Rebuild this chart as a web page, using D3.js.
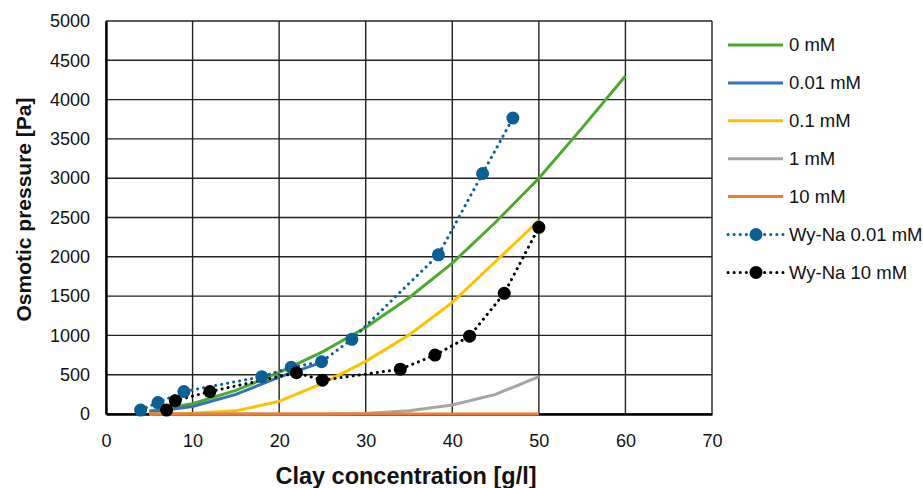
<!DOCTYPE html>
<html>
<head>
<meta charset="utf-8">
<script src="https://cdn.jsdelivr.net/npm/d3@7"></script>
<style>
  html, body { margin: 0; padding: 0; background: #fff; }
  svg { display: block; font-family: "Liberation Sans", Arial, sans-serif; }
</style>
</head>
<body>
<svg id="chart" width="923" height="488"></svg>
<script>
// Model curves: osmotic pressure [Pa] vs clay concentration [g/l]
const concModel = [5, 10, 15, 20, 25, 30, 35, 40, 45, 50, 55, 60];
const p0mM   = [40, 130, 300, 530, 790, 1100, 1480, 1920, 2440, 3000, 3640, 4300];
const conc001 = [5, 10, 15, 20, 25];
const p001mM  = [25, 95, 250, 470, 660];
const conc01  = [5, 10, 15, 20, 25, 30, 35, 40, 45, 50];
const p01mM   = [0, 10, 40, 160, 390, 670, 1005, 1420, 1940, 2460];
const conc1   = [5, 10, 15, 20, 25, 30, 35, 40, 45, 50];
const p1mM    = [0, 0, 0, 0, 0, 5, 40, 115, 250, 475];
const conc10  = [5, 50];
const p10mM   = [0, 0];

// Measurements (Wy-Na)
const wyConc001 = [4.0, 6.0, 9.0, 18.0, 21.4, 24.9, 28.4, 38.4, 43.5, 47.0];
const wyP001    = [50, 145, 285, 475, 595, 665, 950, 2025, 3060, 3765];
const wyConc10  = [7.0, 8.0, 12.0, 22.0, 25.0, 34.0, 38.0, 42.0, 46.0, 50.0];
const wyP10     = [50, 170, 285, 525, 430, 570, 750, 990, 1535, 2375];

const xTicks = [0, 10, 20, 30, 40, 50, 60, 70];
const yTicks = [0, 500, 1000, 1500, 2000, 2500, 3000, 3500, 4000, 4500, 5000];

const seriesNames = ["0 mM", "0.01 mM", "0.1 mM", "1 mM", "10 mM", "Wy-Na 0.01 mM", "Wy-Na 10 mM"];

const zip = (xs, ys) => xs.map((x, i) => [x, ys[i]]);

const series = [
  { name: seriesNames[0], data: zip(concModel, p0mM), color: "#4ea72e", marker: false },
  { name: seriesNames[1], data: zip(conc001, p001mM), color: "#3670b8", marker: false },
  { name: seriesNames[2], data: zip(conc01, p01mM),   color: "#ffc000", marker: false },
  { name: seriesNames[3], data: zip(conc1, p1mM),     color: "#a5a5a5", marker: false },
  { name: seriesNames[4], data: zip(conc10, p10mM),   color: "#ed7d31", marker: false },
  { name: seriesNames[5], data: zip(wyConc001, wyP001), color: "#0a5f94", marker: true },
  { name: seriesNames[6], data: zip(wyConc10, wyP10),   color: "#000000", marker: true }
];

const svg = d3.select("#chart");
const m = { left: 106, right: 712, top: 21, bottom: 414 };

const x = d3.scaleLinear().domain([0, 70]).range([m.left, m.right]);
const y = d3.scaleLinear().domain([0, 5000]).range([m.bottom, m.top]);

// Grid
const grid = svg.append("g");
grid.selectAll("line.h").data(yTicks).join("line")
  .attr("x1", m.left).attr("x2", m.right)
  .attr("y1", d => y(d)).attr("y2", d => y(d))
  .attr("stroke", "#222").attr("stroke-width", 1.4);
grid.selectAll("line.v").data(xTicks).join("line")
  .attr("y1", m.top).attr("y2", m.bottom)
  .attr("x1", d => x(d)).attr("x2", d => x(d))
  .attr("stroke", "#222").attr("stroke-width", 1.4);

// Axes
const fmt = d3.format("d");
const xAxis = svg.append("g").attr("transform", `translate(0,${m.bottom})`)
  .call(d3.axisBottom(x).tickValues(xTicks).tickFormat(fmt).tickSize(0).tickPadding(20));
const yAxis = svg.append("g").attr("transform", `translate(${m.left},0)`)
  .call(d3.axisLeft(y).tickValues(yTicks).tickFormat(fmt).tickSize(0).tickPadding(16));
[xAxis, yAxis].forEach(a => {
  a.select(".domain").attr("stroke", "#000").attr("stroke-width", 2.4);
  a.selectAll("text").attr("font-size", 18).attr("fill", "#111")
    .attr("font-family", "'Liberation Sans', Arial, sans-serif");
});

// Curves
const line = d3.line().x(d => x(d[0])).y(d => y(d[1]));
const plot = svg.append("g");
series.forEach(s => {
  plot.append("path").datum(s.data)
    .attr("d", line)
    .attr("fill", "none")
    .attr("stroke", s.color)
    .attr("stroke-width", 3)
    .attr("stroke-linecap", s.marker ? "round" : "butt")
    .attr("stroke-dasharray", s.marker ? "0.1 6" : null);
});
series.filter(s => s.marker).forEach(s => {
  plot.selectAll(null).data(s.data).join("circle")
    .attr("cx", d => x(d[0])).attr("cy", d => y(d[1]))
    .attr("r", 6.5).attr("fill", s.color);
});

// Axis titles
svg.append("text")
  .attr("x", (m.left + m.right) / 2 - 3).attr("y", 484)
  .attr("text-anchor", "middle")
  .attr("font-size", 23.5).attr("font-weight", "bold").attr("fill", "#111")
  .text("Clay concentration [g/l]");
svg.append("text")
  .attr("transform", `translate(31,${(m.top + m.bottom) / 2 - 8}) rotate(-90)`)
  .attr("text-anchor", "middle")
  .attr("font-size", 21).attr("font-weight", "bold").attr("fill", "#111")
  .text("Osmotic pressure [Pa]");

// Legend
const legend = svg.append("g").attr("transform", "translate(728,45)");
const rows = legend.selectAll("g").data(series).join("g")
  .attr("transform", (d, i) => `translate(0,${i * 37.9})`);
rows.append("line")
  .attr("x1", 0).attr("x2", 55).attr("y1", 0).attr("y2", 0)
  .attr("stroke", d => d.color).attr("stroke-width", 3)
  .attr("stroke-linecap", d => d.marker ? "round" : "butt")
  .attr("stroke-dasharray", d => d.marker ? "0.1 6" : null);
rows.filter(d => d.marker).append("circle")
  .attr("cx", 28).attr("cy", 0).attr("r", 6.5).attr("fill", d => d.color);
rows.append("text")
  .attr("x", 61).attr("y", 0).attr("dy", "0.35em")
  .attr("font-size", 18.5).attr("fill", "#111")
  .text(d => d.name);
</script>
</body>
</html>
